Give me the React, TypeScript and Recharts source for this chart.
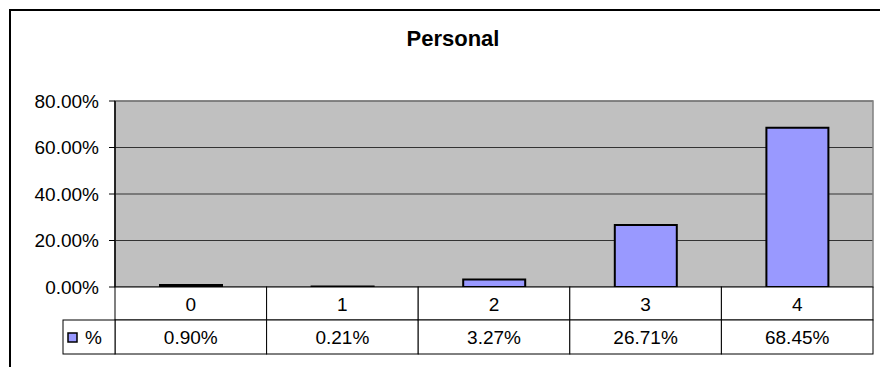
import { BarChart, Bar, XAxis, YAxis, CartesianGrid, ReferenceArea } from 'recharts';

const categories = ['0', '1', '2', '3', '4'];
const percents = [0.009, 0.0021, 0.0327, 0.2671, 0.6845];
const yTicks = [0, 0.2, 0.4, 0.6, 0.8];
const seriesName = '%';

const W = 880;
const H = 367;
const M = { top: 101, right: 7, bottom: 13, left: 55 };
const Y_AXIS_W = 60;
const X_AXIS_H = 67;
const ROW_H = 33;
const BAR_FILL = '#9999FF';
const FONT = '"Liberation Sans", Arial, sans-serif';

const chartData = categories.map((c, i) => ({ cat: c, value: percents[i] }));
const plotW = W - M.left - M.right - Y_AXIS_W;
const bandW = plotW / categories.length;

const fmt = (v: number) => `${(v * 100).toFixed(2)}%`;

// each x tick draws its column of the data table under the plot
function TableTick(props: any) {
  const { x, y, payload, index } = props;
  const left = x - bandW / 2;
  const value = percents[index];
  return (
    <g>
      <rect x={left} y={y} width={bandW} height={ROW_H} fill="#fff" stroke="#000" strokeWidth={1} />
      <rect x={left} y={y + ROW_H} width={bandW} height={ROW_H + 1} fill="#fff" stroke="#000" strokeWidth={1} />
      <text x={x} y={y + 24} textAnchor="middle" fontSize={19} fill="#000" fontFamily={FONT}>
        {payload.value}
      </text>
      <text x={x} y={y + ROW_H + 24} textAnchor="middle" fontSize={19} fill="#000" fontFamily={FONT}>
        {fmt(value)}
      </text>
      {index === 0 && (
        <g>
          <rect x={left - 52} y={y + ROW_H} width={52} height={ROW_H + 1} fill="#fff" stroke="#000" strokeWidth={1} />
          <rect x={left - 47} y={y + ROW_H + 13} width={9} height={9} fill={BAR_FILL} stroke="#000" strokeWidth={1.5} />
          <text x={left - 30} y={y + ROW_H + 24} textAnchor="start" fontSize={19} fill="#000" fontFamily={FONT}>
            {seriesName}
          </text>
        </g>
      )}
    </g>
  );
}

export default function App() {
  return (
    <div style={{ position: 'absolute', left: 0, top: 0, width: W, height: H, overflow: 'hidden', background: '#fff', fontFamily: FONT }}>
      <div style={{ position: 'absolute', left: 9, top: 9, width: 920, height: 420, border: '2px solid #000', boxSizing: 'border-box' }} />
      <div style={{ position: 'absolute', left: 0, top: 28, width: 906, textAlign: 'center', fontSize: 22, fontWeight: 'bold', lineHeight: '22px', color: '#000' }}>
        Personal
      </div>
      <div style={{ position: 'absolute', left: 0, top: 0 }}>
        <BarChart width={W} height={H} data={chartData} margin={M} barSize={62}>
          <CartesianGrid vertical={false} fill="#C0C0C0" stroke="#333" strokeWidth={1} />
          <ReferenceArea y1={0} y2={0.8} fill="none" stroke="#808080" strokeWidth={1.5} ifOverflow="visible" />
          <XAxis
            dataKey="cat"
            height={X_AXIS_H}
            axisLine={false}
            tickLine={false}
            tickSize={0}
            tickMargin={0}
            interval={0}
            tick={<TableTick />}
          />
          <YAxis
            width={Y_AXIS_W}
            domain={[0, 0.8]}
            ticks={yTicks}
            tickFormatter={fmt}
            axisLine={{ stroke: '#000', strokeWidth: 1.5 }}
            tickLine={{ stroke: '#000' }}
            tickSize={6}
            tickMargin={10}
            tick={{ fill: '#000', fontSize: 19, fontFamily: FONT }}
          />
          <Bar dataKey="value" fill={BAR_FILL} stroke="#000" strokeWidth={2} isAnimationActive={false} />
        </BarChart>
      </div>
    </div>
  );
}
